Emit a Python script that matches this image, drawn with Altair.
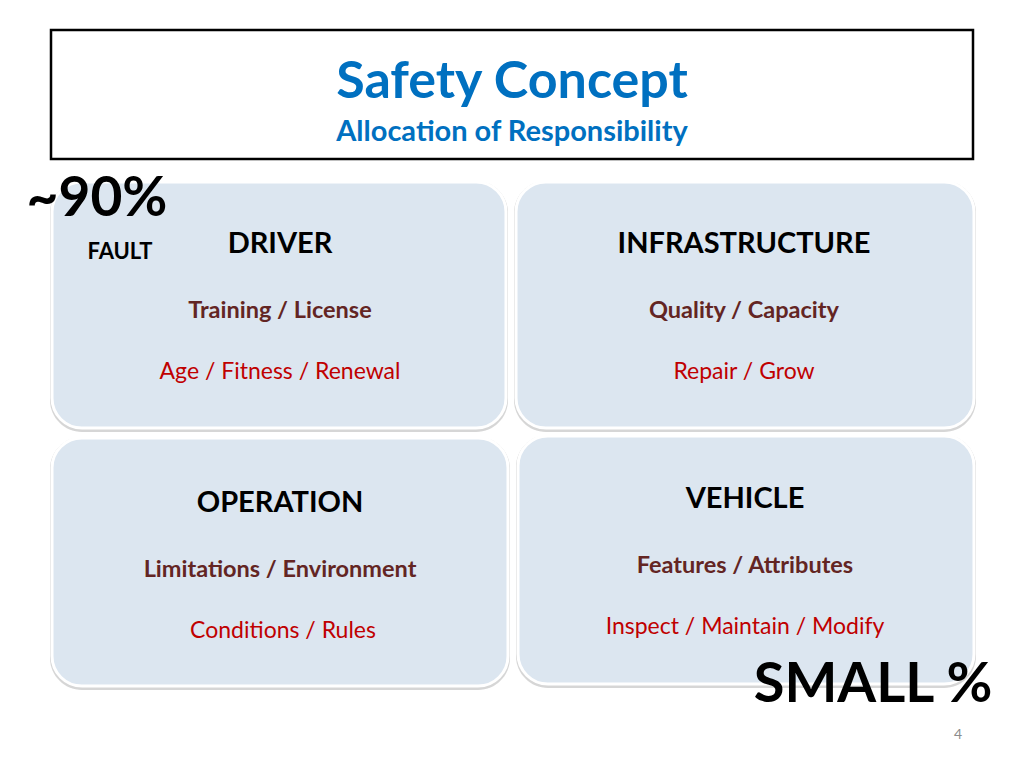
import altair as alt
import pandas as pd

# ---- content ----
categories = ["DRIVER", "INFRASTRUCTURE", "OPERATION", "VEHICLE"]
primary = ["Training / License", "Quality / Capacity", "Limitations / Environment", "Features / Attributes"]
secondary = ["Age / Fitness / Renewal", "Repair / Grow", "Conditions / Rules", "Inspect / Maintain / Modify"]
title_text = "Safety Concept"
subtitle_text = "Allocation of Responsibility"
share_high = "~90%"
share_high_label = "FAULT"
share_low = "SMALL %"
page_number = "4"

# ---- layout (page pixel coordinates) ----
box_x = [52, 516, 52, 518]
box_x2 = [506, 974, 508, 974]
box_y = [182, 182, 438, 436]
box_y2 = [428, 428, 686, 684]
head_x = [280, 744, 280, 745]
head_y = [244, 244, 503, 499]
prim_y = [311, 311, 570, 566]
sec_x = [280, 744, 283, 745]
sec_y = [372, 372, 631, 627]

FONT = "Lato"
X = dict(scale=alt.Scale(domain=[8, 1016], nice=False, zero=False), axis=None)
Y = dict(scale=alt.Scale(domain=[760, 8], nice=False, zero=False), axis=None)

boxes = pd.DataFrame({"cat": categories, "x": box_x, "x2": box_x2, "y": box_y, "y2": box_y2})
boxes["sx"] = boxes["x"] - 2
boxes["sx2"] = boxes["x2"] + 2
boxes["sy"] = boxes["y"] - 1
boxes["sy2"] = boxes["y2"] + 4

shadow = alt.Chart(boxes).mark_rect(cornerRadius=32, color="#c4c4c4", opacity=0.7).encode(
    x=alt.X("sx:Q", **X), x2="sx2:Q", y=alt.Y("sy:Q", **Y), y2="sy2:Q")
panel = alt.Chart(boxes).mark_rect(cornerRadius=30, fill="#dce6f0", stroke="white", strokeWidth=3).encode(
    x=alt.X("x:Q", **X), x2="x2:Q", y=alt.Y("y:Q", **Y), y2="y2:Q")

title_box = pd.DataFrame({"x": [51], "x2": [973], "y": [30], "y2": [159]})
tbox = alt.Chart(title_box).mark_rect(fill="white", stroke="black", strokeWidth=2.5).encode(
    x=alt.X("x:Q", **X), x2="x2:Q", y=alt.Y("y:Q", **Y), y2="y2:Q")


def txt(df, size, color, weight="bold", align="center"):
    return alt.Chart(df).mark_text(font=FONT, fontSize=size, color=color, fontWeight=weight,
                                   align=align, baseline="middle").encode(
        x=alt.X("x:Q", **X), y=alt.Y("y:Q", **Y), text="t:N")


layers = [tbox, shadow, panel]
layers.append(txt(pd.DataFrame({"t": [title_text], "x": [512], "y": [82]}), 52, "#0070c0"))
layers.append(txt(pd.DataFrame({"t": [subtitle_text], "x": [512], "y": [132]}), 29, "#0070c0"))
layers.append(txt(pd.DataFrame({"t": categories, "x": head_x, "y": head_y}), 29, "black"))
layers.append(txt(pd.DataFrame({"t": primary, "x": head_x, "y": prim_y}), 23.5, "#632523"))
layers.append(txt(pd.DataFrame({"t": secondary, "x": sec_x, "y": sec_y}), 23, "#c00000", weight="normal"))
layers.append(txt(pd.DataFrame({"t": [share_high], "x": [97], "y": [199]}), 55, "black"))
layers.append(txt(pd.DataFrame({"t": [share_high_label], "x": [120], "y": [252]}), 22, "black"))
layers.append(txt(pd.DataFrame({"t": [share_low], "x": [873], "y": [685]}), 56, "black"))
layers.append(txt(pd.DataFrame({"t": [page_number], "x": [958], "y": [735]}), 14, "#8c8c8c", weight="normal"))

chart = alt.layer(*layers).properties(
    width=1008, height=752, padding=0, autosize=alt.AutoSizeParams(type="none"), background="white"
).configure_view(stroke=None)

chart.save("out.html", embed_options={"renderer": "svg", "actions": False})
